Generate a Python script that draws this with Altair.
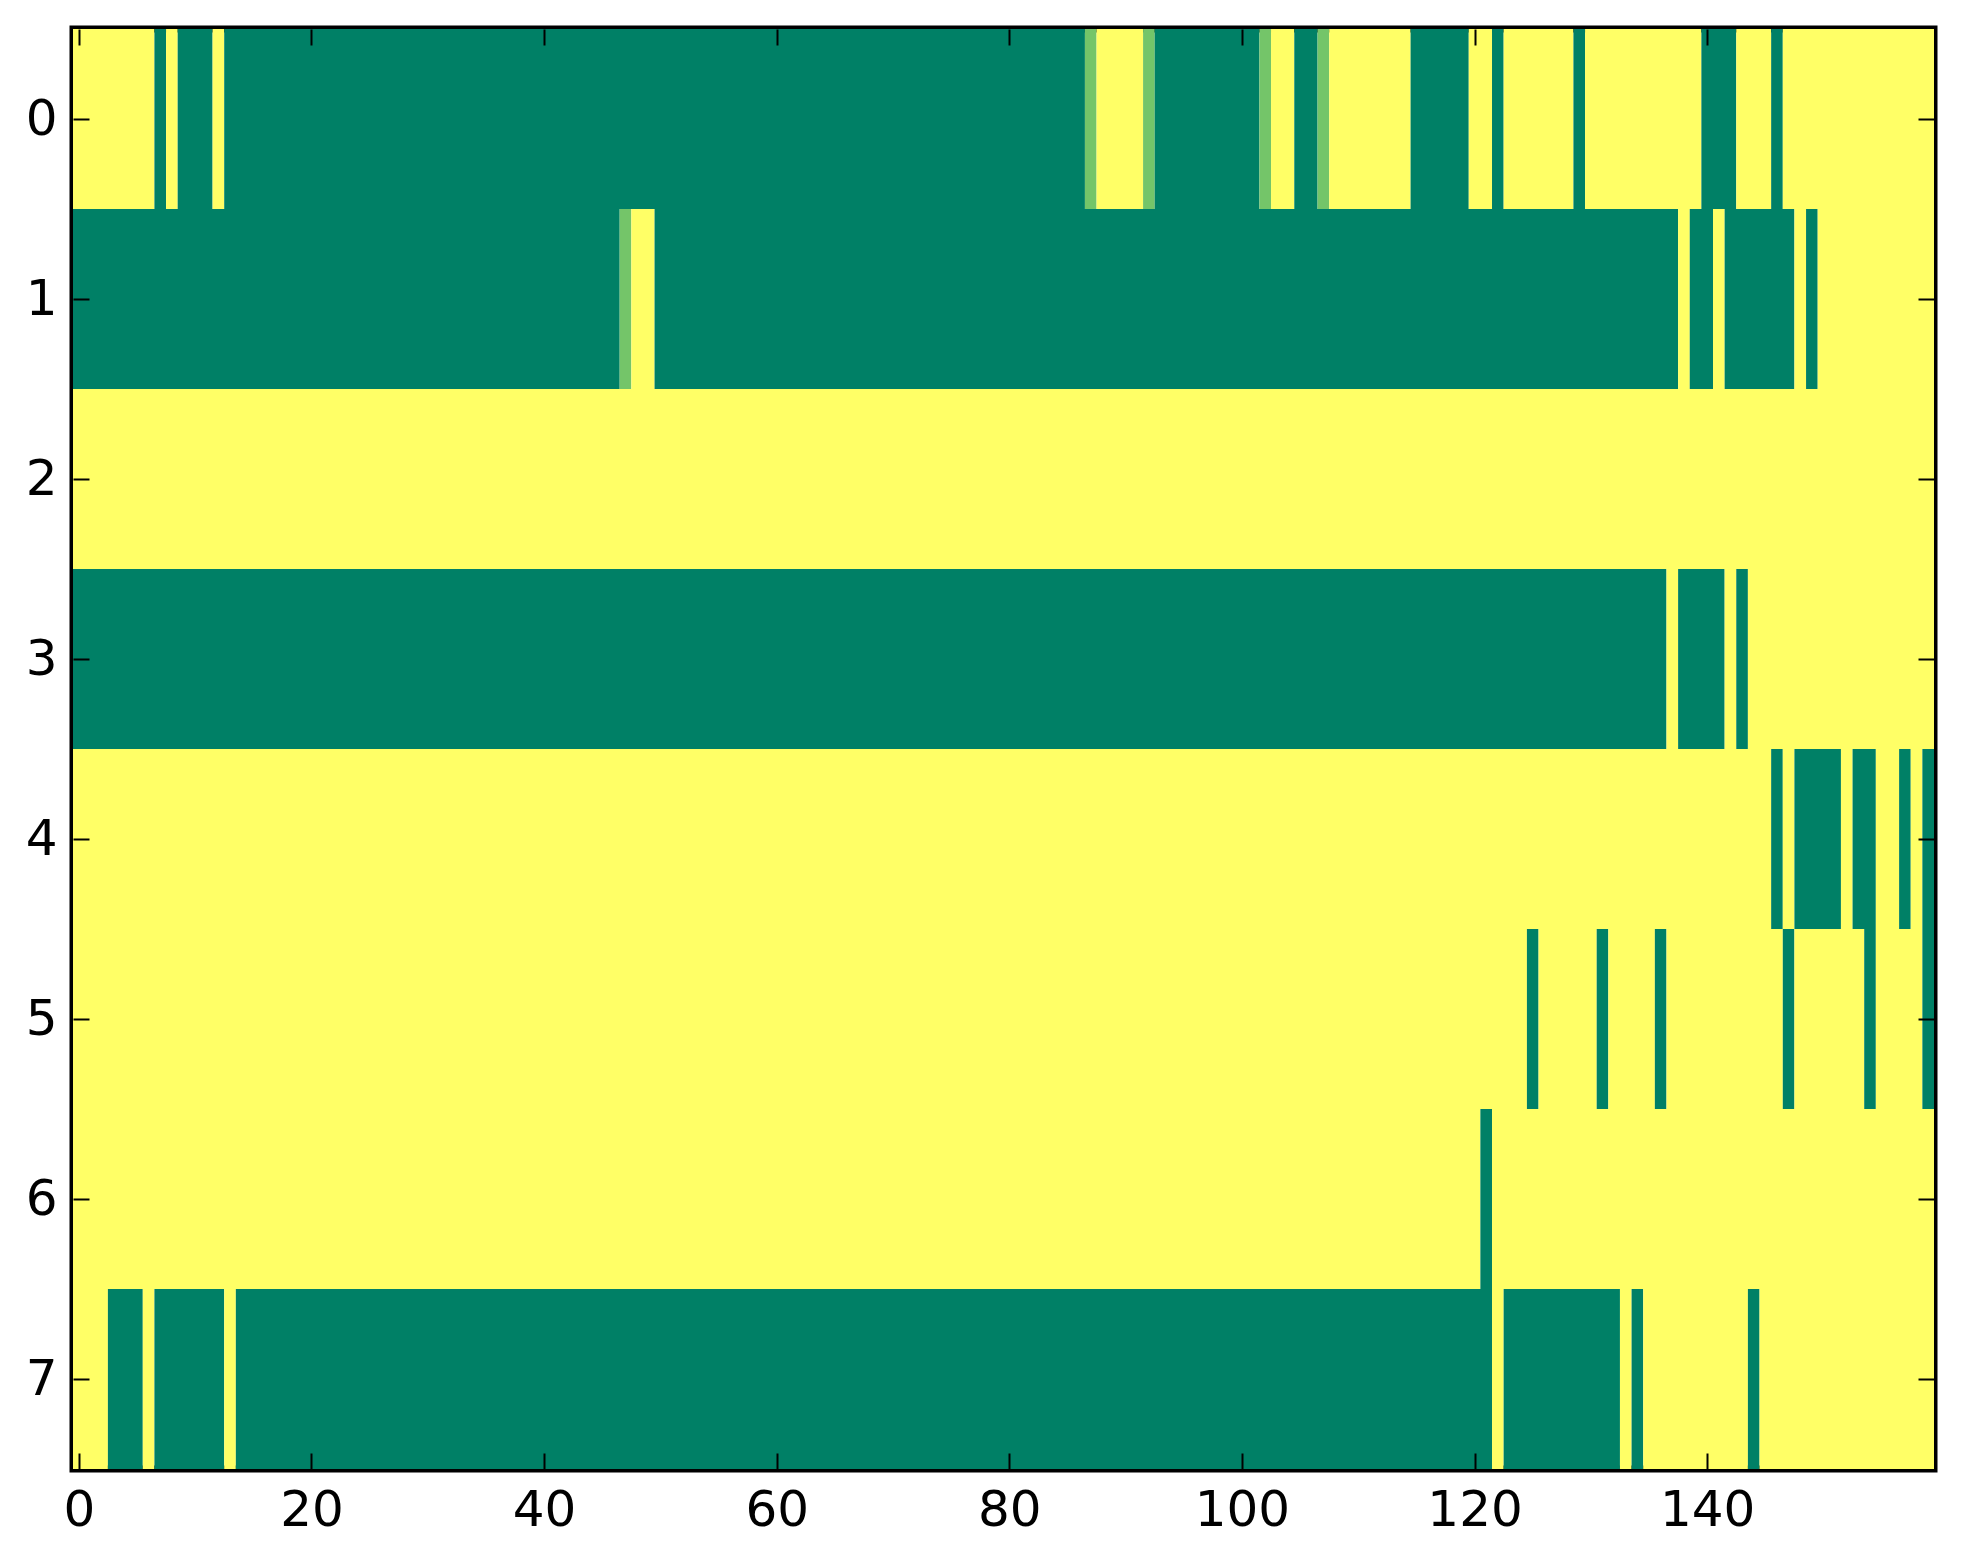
import altair as alt
import pandas as pd

# Each row of the image as runs of (value, number of columns); 160 columns per row.
# value 1 = yellow, 0 = green, 0.5 = intermediate
row0 = [(1, 7), (0, 1), (1, 1), (0, 3), (1, 1), (0, 74), (0.5, 1), (1, 4), (0.5, 1),
        (0, 9), (0.5, 1), (1, 2), (0, 2), (0.5, 1), (1, 7), (0, 5), (1, 2), (0, 1),
        (1, 6), (0, 1), (1, 10), (0, 3), (1, 3), (0, 1), (1, 13)]
row1 = [(0, 47), (0.5, 1), (1, 2), (0, 88), (1, 1), (0, 2), (1, 1), (0, 6), (1, 1),
        (0, 1), (1, 10)]
row2 = [(1, 160)]
row3 = [(0, 137), (1, 1), (0, 4), (1, 1), (0, 1), (1, 16)]
row4 = [(1, 146), (0, 1), (1, 1), (0, 4), (1, 1), (0, 2), (1, 2), (0, 1), (1, 1), (0, 1)]
row5 = [(1, 125), (0, 1), (1, 5), (0, 1), (1, 4), (0, 1), (1, 10), (0, 1), (1, 6),
        (0, 1), (1, 4), (0, 1)]
row6 = [(1, 121), (0, 1), (1, 38)]
row7 = [(1, 3), (0, 3), (1, 1), (0, 6), (1, 1), (0, 108), (1, 1), (0, 10), (1, 1),
        (0, 1), (1, 9), (0, 1), (1, 15)]
rows = [row0, row1, row2, row3, row4, row5, row6, row7]

x_ticks = [0, 20, 40, 60, 80, 100, 120, 140]
y_ticks = [0, 1, 2, 3, 4, 5, 6, 7]
cmap_colors = ["#008066", "#ffff66"]  # matplotlib "summer" ends

records = []
for r, runs in enumerate(rows):
    start = 0
    for v, n in runs:
        records.append({"y_lo": r - 0.5, "y_hi": r + 0.5,
                        "x_lo": start - 0.5, "x_hi": start + n - 0.5, "value": v})
        start += n
df = pd.DataFrame(records)

W, H = 1861, 1440
TICK = 16
FONT = "DejaVu Sans"
FS = 50

xscale = alt.Scale(domain=[-0.5, 159.5], nice=False, zero=False)
yscale = alt.Scale(domain=[-0.5, 7.5], nice=False, zero=False, reverse=True)
color = alt.Color("value:Q", scale=alt.Scale(domain=[0, 1], range=cmap_colors), legend=None)


def ax(orient, values, labels=True):
    return alt.Axis(orient=orient, values=values, tickSize=TICK, offset=-TICK,
                    domain=False, grid=False, labels=labels, title=None,
                    tickColor="black", tickWidth=2, labelColor="black",
                    labelFont=FONT, labelFontSize=FS, labelPadding=16,
                    labelFlush=False, labelOverlap=False, zindex=2)


main = alt.Chart(df).mark_rect().encode(
    x=alt.X("x_lo:Q", scale=xscale, axis=ax("bottom", x_ticks)),
    x2="x_hi:Q",
    y=alt.Y("y_lo:Q", scale=yscale, axis=ax("left", y_ticks)),
    y2="y_hi:Q",
    color=color,
)

mirror = alt.Chart(df).mark_rect(opacity=0).encode(
    x=alt.X("x_lo:Q", scale=xscale, axis=ax("top", x_ticks, labels=False)),
    x2="x_hi:Q",
    y=alt.Y("y_lo:Q", scale=yscale, axis=ax("right", y_ticks, labels=False)),
    y2="y_hi:Q",
)

chart = alt.layer(main, mirror).resolve_axis(
    x="independent", y="independent"
).properties(
    width=W, height=H,
    autosize=alt.AutoSizeParams(type="none"),
    padding={"left": 65, "top": 21, "right": 20, "bottom": 70},
    background="white",
).configure_view(stroke="black", strokeWidth=7)

chart.save("out.html", embed_options={"renderer": "svg", "actions": False})
